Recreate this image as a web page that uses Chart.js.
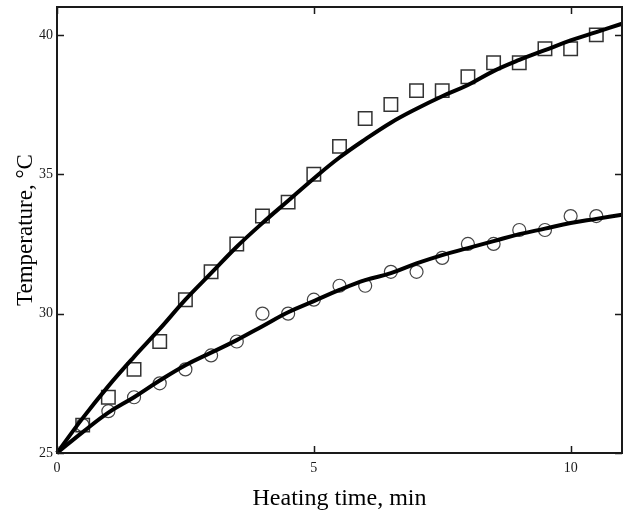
<!DOCTYPE html>
<html>
<head>
<meta charset="utf-8">
<script src="https://cdn.jsdelivr.net/npm/chart.js@4.4.1/dist/chart.umd.min.js"></script>
<style>
  html, body { margin: 0; padding: 0; background: #fff; }
  #wrap { width: 625px; height: 513px; position: relative; }
</style>
</head>
<body>
<div id="wrap"><canvas id="myChart"></canvas></div>
<script>
// measured points (heating time, min)
const times = [0.5, 1, 1.5, 2, 2.5, 3, 3.5, 4, 4.5, 5, 5.5, 6, 6.5, 7, 7.5, 8, 8.5, 9, 9.5, 10, 10.5];
const squareTemps = [26, 27, 28, 29, 30.5, 31.5, 32.5, 33.5, 34, 35, 36, 37, 37.5, 38, 38, 38.5, 39, 39, 39.5, 39.5, 40];
const circleTemps = [26, 26.5, 27, 27.5, 28, 28.5, 29, 30, 30, 30.5, 31, 31, 31.5, 31.5, 32, 32.5, 32.5, 33, 33, 33.5, 33.5];

// fitted curves
const fitTimes = [0, 0.5, 1, 1.5, 2, 2.5, 3, 3.5, 4, 4.5, 5, 5.5, 6, 6.5, 7, 7.5, 8, 8.5, 9, 9.5, 10, 10.5, 11];
const upperFit = [25, 26.25, 27.4, 28.45, 29.45, 30.5, 31.45, 32.4, 33.25, 34.05, 34.85, 35.6, 36.25, 36.85, 37.35, 37.8, 38.2, 38.7, 39.1, 39.45, 39.8, 40.1, 40.4];
const lowerFit = [25, 25.75, 26.45, 27.0, 27.6, 28.15, 28.6, 29.05, 29.55, 30.05, 30.45, 30.85, 31.2, 31.45, 31.8, 32.1, 32.35, 32.6, 32.85, 33.05, 33.25, 33.4, 33.55];

const xTicks = [0, 5, 10];
const yTicks = [25, 30, 35, 40];

const toPoints = (xs, ys) => xs.map((x, i) => ({ x: x, y: ys[i] }));

// frame box with inward ticks on all four sides
const frameTicks = {
  id: "frameTicks",
  afterDatasetsDraw(chart) {
    const { ctx, chartArea: a, scales } = chart;
    const len = 7;
    ctx.save();
    ctx.strokeStyle = "#1a1a1a";
    ctx.lineWidth = 2;
    ctx.strokeRect(a.left, a.top, a.right - a.left, a.bottom - a.top);
    ctx.lineWidth = 1.5;
    ctx.beginPath();
    xTicks.forEach((v) => {
      const px = Math.round(scales.x.getPixelForValue(v)) + 0.5;
      ctx.moveTo(px, a.bottom);
      ctx.lineTo(px, a.bottom - len);
      ctx.moveTo(px, a.top);
      ctx.lineTo(px, a.top + len);
    });
    yTicks.forEach((v) => {
      const py = Math.round(scales.y.getPixelForValue(v)) + 0.5;
      ctx.moveTo(a.left, py);
      ctx.lineTo(a.left + len, py);
      ctx.moveTo(a.right, py);
      ctx.lineTo(a.right - len, py);
    });
    ctx.stroke();
    ctx.restore();
  }
};

const config = {
  type: "scatter",
  data: {
    datasets: [
      {
        label: "fit 1",
        type: "line",
        data: toPoints(fitTimes, upperFit),
        borderColor: "#000",
        borderWidth: 4,
        pointRadius: 0,
        tension: 0.4,
        fill: false
      },
      {
        label: "fit 2",
        type: "line",
        data: toPoints(fitTimes, lowerFit),
        borderColor: "#000",
        borderWidth: 4,
        pointRadius: 0,
        tension: 0.4,
        fill: false
      },
      {
        label: "squares",
        data: toPoints(times, squareTemps),
        pointStyle: "rect",
        pointRadius: 9.5,
        borderColor: "#333",
        borderWidth: 1.5,
        backgroundColor: "rgba(0,0,0,0)"
      },
      {
        label: "circles",
        data: toPoints(times, circleTemps),
        pointStyle: "circle",
        pointRadius: 6.5,
        borderColor: "#444",
        borderWidth: 1.2,
        backgroundColor: "rgba(0,0,0,0)"
      }
    ]
  },
  plugins: [frameTicks],
  options: {
    responsive: false,
    animation: false,
    clip: false,
    layout: { autoPadding: false, padding: { left: 12, right: 3, top: 7, bottom: 0 } },
    plugins: {
      legend: { display: false },
      tooltip: { enabled: false }
    },
    scales: {
      x: {
        type: "linear",
        min: 0,
        max: 11,
        afterBuildTicks: (scale) => {
          scale.ticks = xTicks.map((v) => ({ value: v }));
        },
        afterFit: (scale) => {
          scale.height = 60;
          scale.paddingLeft = 0;
          scale.paddingRight = 0;
        },
        grid: { display: false, drawTicks: false },
        border: { display: false },
        ticks: {
          padding: 7,
          color: "#1a1a1a",
          font: { family: "Liberation Serif", size: 14 },
          maxRotation: 0
        },
        title: {
          display: true,
          text: "Heating time, min",
          color: "#000",
          font: { family: "Liberation Serif", size: 24 },
          padding: { top: 0, bottom: 0 }
        }
      },
      y: {
        type: "linear",
        min: 25,
        max: 41,
        afterBuildTicks: (scale) => {
          scale.ticks = yTicks.map((v) => ({ value: v }));
        },
        afterFit: (scale) => {
          scale.width = 45;
          scale.paddingTop = 0;
          scale.paddingBottom = 0;
        },
        grid: { display: false, drawTicks: false },
        border: { display: false },
        ticks: {
          padding: 4,
          color: "#1a1a1a",
          font: { family: "Liberation Serif", size: 14 }
        },
        title: {
          display: true,
          text: "Temperature, °C",
          color: "#000",
          font: { family: "Liberation Serif", size: 23 },
          padding: { top: 0, bottom: 0 }
        }
      }
    }
  }
};

const ctx = document.getElementById("myChart");
ctx.width = 625;
ctx.height = 513;
const myChart = new Chart(ctx, config);
</script>
</body>
</html>
